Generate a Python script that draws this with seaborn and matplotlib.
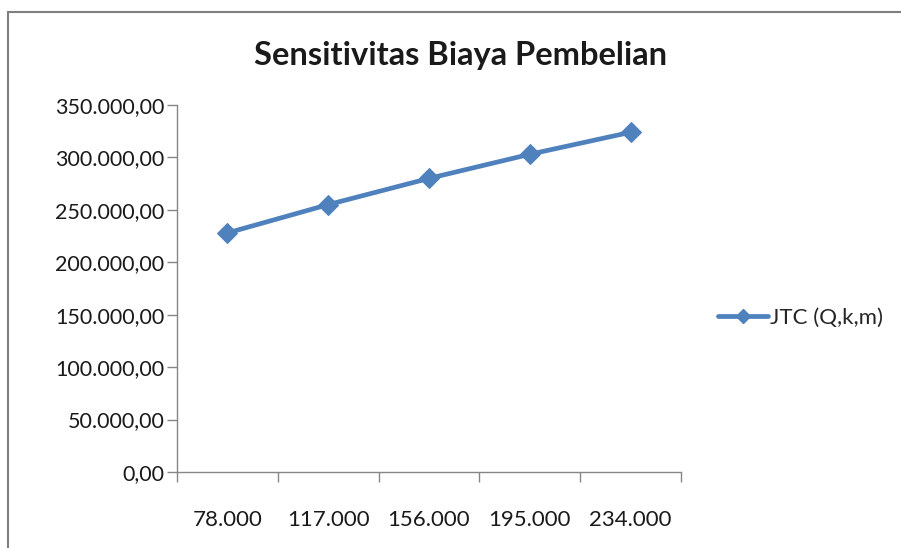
import matplotlib
matplotlib.use("Agg")
import matplotlib.pyplot as plt
from matplotlib.lines import Line2D
import seaborn as sns
import pandas as pd

# Purchase quantity scenarios and total cost JTC(Q,k,m)
quantities = ["78.000", "117.000", "156.000", "195.000", "234.000"]
jtc_values = [228000, 255000, 280000, 303000, 324000]
y_ticks = [0, 50000, 100000, 150000, 200000, 250000, 300000, 350000]
series_name = "JTC (Q,k,m)"
title = "Sensitivitas Biaya Pembelian"

sns.set_theme(style="white")
plt.rcParams["font.family"] = ["Lato", "DejaVu Sans"]

df = pd.DataFrame({"pos": range(len(quantities)), "jtc": jtc_values})

fig = plt.figure(figsize=(9.01, 5.48), dpi=100)
ax = fig.add_axes([177 / 901, 1 - 472 / 548, (681 - 177) / 901, (472 - 105) / 548])

color = "#4F81BD"
sns.lineplot(data=df, x="pos", y="jtc", ax=ax, color=color, linewidth=3.4,
             marker="D", markersize=10, markeredgecolor=color, legend=False)

ax.set_xlim(-0.5, len(quantities) - 0.5)
ax.set_ylim(0, 350000)
ax.set_xlabel("")
ax.set_ylabel("")

def fmt(v):
    s = f"{v:,.2f}"
    return s.replace(",", "X").replace(".", ",").replace("X", ".")

ax.set_yticks(y_ticks)
ax.set_yticklabels([fmt(v) for v in y_ticks])

# category boundaries carry the tick marks, labels sit at the centres
ax.set_xticks([i - 0.5 for i in range(len(quantities) + 1)])
ax.set_xticklabels([""] * (len(quantities) + 1))
ax.set_xticks(range(len(quantities)), minor=True)
ax.set_xticklabels(quantities, minor=True)

for side in ["top", "right"]:
    ax.spines[side].set_visible(False)
for side in ["left", "bottom"]:
    ax.spines[side].set_color("#868686")
    ax.spines[side].set_linewidth(1.0)

ax.tick_params(axis="y", which="major", direction="out", length=7, width=1,
               color="#868686", labelsize=15.5, labelcolor="#1a1a1a", pad=2, left=True)
ax.tick_params(axis="x", which="major", direction="out", length=7, width=1,
               color="#868686", bottom=True)
ax.tick_params(axis="x", which="minor", length=0, labelsize=16,
               labelcolor="#1a1a1a", pad=27, bottom=True)

fig.text(461 / 901, 1 - 55 / 548, title, ha="center", va="center",
         fontsize=23.5, fontweight="bold", color="#1a1a1a")

handle = Line2D([], [], color=color, linewidth=3.4, marker="D", markersize=7)
fig.legend([handle], [series_name], loc="center left",
           bbox_to_anchor=(718 / 901, 1 - 318 / 548), frameon=False,
           fontsize=16, handlelength=2.25, handletextpad=0.1, borderpad=0,
           borderaxespad=0)

# chart frame
fig.add_artist(Line2D([8 / 901, 8 / 901], [0, 1 - 12 / 548], transform=fig.transFigure,
                      color="#7f7f7f", linewidth=1.5))
fig.add_artist(Line2D([8 / 901, 1], [1 - 12 / 548, 1 - 12 / 548], transform=fig.transFigure,
                      color="#7f7f7f", linewidth=1.5))

fig.savefig("out.png", dpi=100)
